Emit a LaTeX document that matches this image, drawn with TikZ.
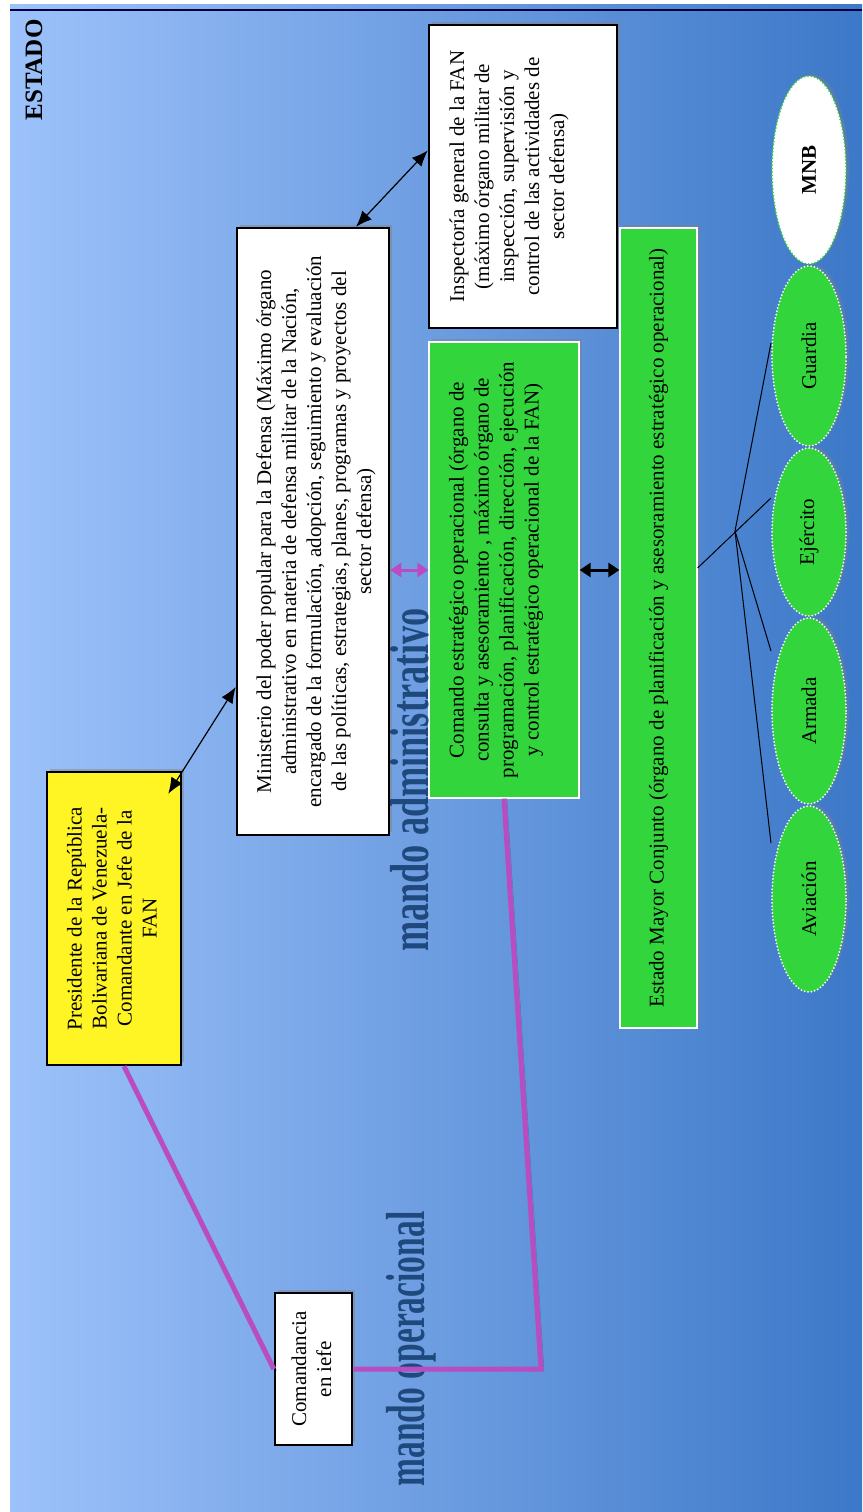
\documentclass[tikz,border=0pt]{standalone}
\usepackage{fontspec}
\setmainfont{Liberation Serif}
\usepackage{graphicx}
\usetikzlibrary{positioning,calc,shapes.geometric,arrows.meta,shadows}
\definecolor{bgleft}{RGB}{157,194,250}
\definecolor{bgmid}{RGB}{126,166,232}
\definecolor{bgright}{RGB}{60,120,200}
\definecolor{fangreen}{RGB}{50,214,60}
\definecolor{fanyellow}{RGB}{255,245,36}
\definecolor{mandopink}{RGB}{185,76,192}
\definecolor{mandoblue}{RGB}{31,73,125}
\newcommand{\vtext}[1]{\rotatebox{90}{\begin{tabular}{@{}c@{}}#1\end{tabular}}}
\tikzset{%
  every box/.style={
    rectangle,
    inner sep=0pt,
    font=\fontsize{21}{25}\selectfont,
    drop shadow={shadow xshift=3pt,shadow yshift=3pt,opacity=.45}
  },
  white box/.style={every box, draw=black, line width=2.5pt, fill=white},
  yellow box/.style={every box, draw=black, line width=2.5pt, fill=fanyellow},
  green box/.style={every box, draw=white, line width=1.2pt, fill=fangreen},
  force/.style={
    ellipse,
    inner sep=0pt,
    minimum width=74pt,
    draw=white, fill=fangreen,
    line width=2pt, line cap=round, dash pattern=on 0pt off 3.4pt,
    font=\fontsize{21}{25}\selectfont,
    drop shadow={shadow xshift=3pt,shadow yshift=2pt,opacity=.4}
  },
  mando/.style={
    rotate=90,
    anchor=base,
    text=mandoblue,
    font=\fontsize{55}{55}\selectfont\bfseries
  },
}

\begin{document}
\begin{tikzpicture}[x=1pt,y=-1pt,node distance=0pt,>={Latex[length=16pt,width=13pt]}]
      \tikzstyle{bond}=[line width=5pt,draw=mandopink,line join=miter,
        preaction={draw=black,opacity=.25,transform canvas={shift={(3pt,-2pt)}}}]
      \tikzstyle{short}=[line width=3pt,{Triangle[length=11pt,width=14pt]}-{Triangle[length=11pt,width=14pt]}]

      \useasboundingbox (0,0) rectangle (862,1512);
      \shade[left color=bgleft,middle color=bgmid,right color=bgright] (10,5) rectangle (862,1512);
      \draw[line width=2pt,black!75!blue] (10,10) -- (862,10);

      \node[rotate=90,font=\fontsize{25}{25}\selectfont\bfseries] (estado) at (34,70) {ESTADO};

      \node[white box,minimum width=188pt,minimum height=303pt] (insp) at (523,176.5)
        {\vtext{Inspectoría general de la FAN\\(máximo órgano militar de\\inspección, supervisión y\\control de las actividades de\\sector defensa)}\rule{28pt}{0pt}};
      \node[white box,minimum width=152pt,minimum height=607pt] (mini) at (313,531.5)
        {\rule{6pt}{0pt}\vtext{Ministerio del poder popular para la Defensa (Máximo órgano\\administrativo en materia de defensa militar de la Nación,\\encargado de la formulación, adopción, seguimiento y evaluación\\de las políticas, estrategias, planes, programas y proyectos del\\sector defensa)}};
      \node[yellow box,minimum width=134pt,minimum height=293pt] (pres) at (114,918.5)
        {\vtext{Presidente de la República\\Bolivariana de Venezuela-\\Comandante en Jefe de la\\FAN}};
      \node[green box,minimum width=150pt,minimum height=456pt] (com) at (504,570)
        {\vtext{Comando estratégico operacional (órgano de\\consulta y asesoramiento , máximo órgano de\\programación, planificación, dirección, ejecución\\y control estratégico operacional de la FAN)}\rule{16pt}{0pt}};
      \node[green box,minimum width=77pt,minimum height=800pt] (emc) at (658.5,628)
        {\rotatebox{90}{Estado Mayor Conjunto (órgano de planificación y asesoramiento estratégico operacional)}};
      \node[white box,minimum width=77pt,minimum height=152pt] (coman) at (313.5,1369)
        {\vtext{Comandancia\\en iefe}};

      \node[force,fill=white,draw=fangreen,minimum height=188pt] (mnb) at (809,170) {\rotatebox{90}{\bfseries MNB}};
      \node[force,minimum height=180pt,below=of mnb] (guard) {\rotatebox{90}{Guardia}};
      \node[force,minimum height=168pt,below=of guard] (ejer) {\rotatebox{90}{Ejército}};
      \node[force,minimum height=186pt,below=of ejer] (arma) {\rotatebox{90}{Armada}};
      \node[force,minimum height=186pt,below=of arma] (avia) {\rotatebox{90}{Aviación}};

      \node[mando,xscale=.66] (admin) at (428,780) {mando administrativo};
      \node[mando,xscale=.61] (oper) at (424,1349) {mando operacional};

      \coordinate (bend) at (541,1369);
      \coordinate (hub) at (735,531);

      \draw[<->,line width=1.2pt] ($(pres.north east)+(-14,23)$) -- ($(mini.west)+(0,155.5)$);
      \draw[<->,line width=1.2pt] ($(mini.north)+(43,0)$) -- ($(insp.west)+(0,-26)$);
      \draw[short,mandopink] (mini.east |- com.west) -- (com.west);
      \draw[short,black] (com.east) -- (com.east -| emc.west);

      \draw[bond] ($(pres.south)+(10,0)$) -- (coman.west);
      \draw[bond] (com.south) -- (bend) -- (coman.east);

      \draw[line width=1pt] ($(emc.east)+(0,-60)$) -- ($(ejer.west)+(0,-34)$);
      \draw[line width=1pt] (hub) -- ($(guard.west)+(0,-13)$);
      \draw[line width=1pt] (hub) -- ($(arma.west)+(0,-60)$);
      \draw[line width=1pt] (hub) -- ($(avia.west)+(0,-56)$);
  \end{tikzpicture}
\end{document}
